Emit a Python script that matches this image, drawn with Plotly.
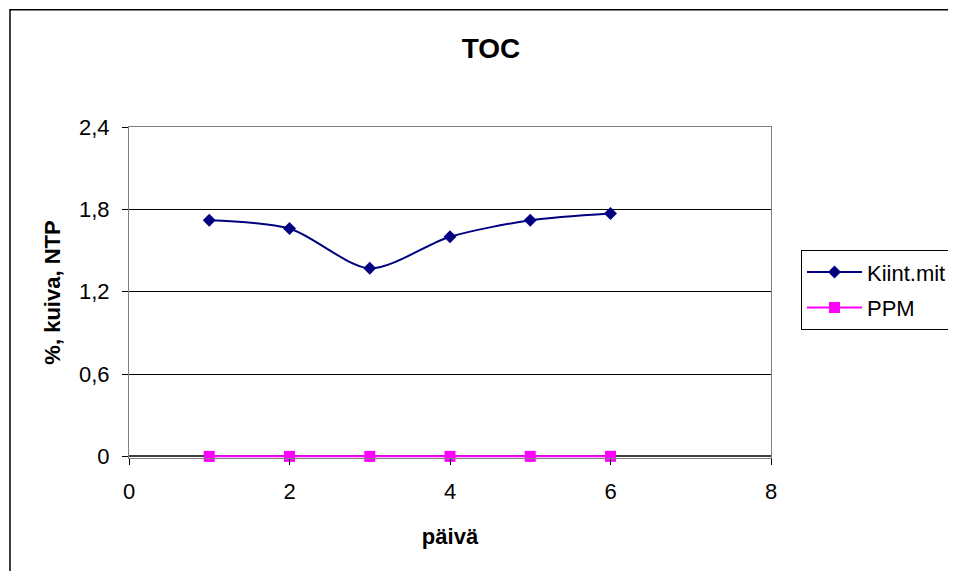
import plotly.graph_objects as go

days = [1, 2, 3, 4, 5, 6]
kiint_mit = [1.72, 1.66, 1.37, 1.60, 1.72, 1.77]
ppm = [0, 0, 0, 0, 0, 0]

y_tick_vals = [0, 0.6, 1.2, 1.8, 2.4]
y_tick_text = ["0", "0,6", "1,2", "1,8", "2,4"]
x_tick_vals = [0, 2, 4, 6, 8]
x_tick_text = ["0", "2", "4", "6", "8"]

FONT = "Liberation Sans, Arial, sans-serif"
OFF = 8  # page body margin

# plot area in page pixels
PL, PR, PT, PB = 129, 771, 127, 456
Y0 = -0.012
pb_eff = PB + (0 - Y0) / 2.4 * (PB - PT)
ph = pb_eff - PT
pw = PR - PL

fig = go.Figure()
fig.add_trace(go.Scatter(
    x=days, y=kiint_mit, name="Kiint.mit", mode="lines+markers",
    line=dict(color="#000080", width=2, shape="spline", smoothing=0.8),
    marker=dict(symbol="diamond", size=10, color="#000080"),
    legendgroup="a",
))
fig.add_trace(go.Scatter(
    x=days, y=ppm, name="PPM", mode="lines+markers",
    line=dict(color="#FF00FF", width=2),
    marker=dict(symbol="square", size=11, color="#FF00FF"),
    legendgroup="b", cliponaxis=False,
))

fig.update_layout(
    width=956, height=571,
    margin=dict(l=PL - OFF, r=956 + OFF - PR, t=PT - OFF, b=571 + OFF - pb_eff),
    paper_bgcolor="white", plot_bgcolor="white",
    font=dict(family=FONT, size=22, color="black"),
    title=dict(text="<b>TOC</b>", x=(491 - OFF) / 956, xanchor="center", xref="container",
               y=1 - (48 - OFF) / 571, yanchor="middle", yref="container",
               font=dict(size=28, family=FONT, color="black")),
    showlegend=True,
    legend=dict(x=(801 - PL) / pw, xanchor="left", y=(pb_eff - 290) / ph, yanchor="middle",
                bordercolor="black", borderwidth=1, bgcolor="white",
                font=dict(size=22, family=FONT), tracegroupgap=4,
                traceorder="grouped", itemwidth=55),
    xaxis=dict(range=[0, 8], tickvals=x_tick_vals, ticktext=x_tick_text,
               showgrid=False, zeroline=False,
               showline=True, linecolor="#808080", linewidth=1, mirror=True,
               ticks="outside", ticklen=6, tickcolor="black",
               ticklabelstandoff=8,
               title=dict(text="<b>päivä</b>", standoff=25,
                          font=dict(size=22, family=FONT))),
    yaxis=dict(range=[Y0, 2.4], tickvals=y_tick_vals, ticktext=y_tick_text,
               showgrid=True, gridcolor="black", gridwidth=1,
               zeroline=True, zerolinecolor="#404040", zerolinewidth=1.5,
               showline=True, linecolor="#808080", linewidth=1, mirror=True,
               ticks="outside", ticklen=6, tickcolor="black",
               ticklabelstandoff=8,
               title=dict(text="<b>%, kuiva, NTP</b>", standoff=12,
                          font=dict(size=22, family=FONT))),
    shapes=[
        dict(type="rect", xref="paper", yref="paper",
             x0=(10 - PL) / pw, x1=(1100 - PL) / pw,
             y0=(pb_eff - 700) / ph, y1=(pb_eff - 10) / ph,
             line=dict(color="black", width=1.5), layer="below"),
    ],
)

fig.write_html("out.html")
